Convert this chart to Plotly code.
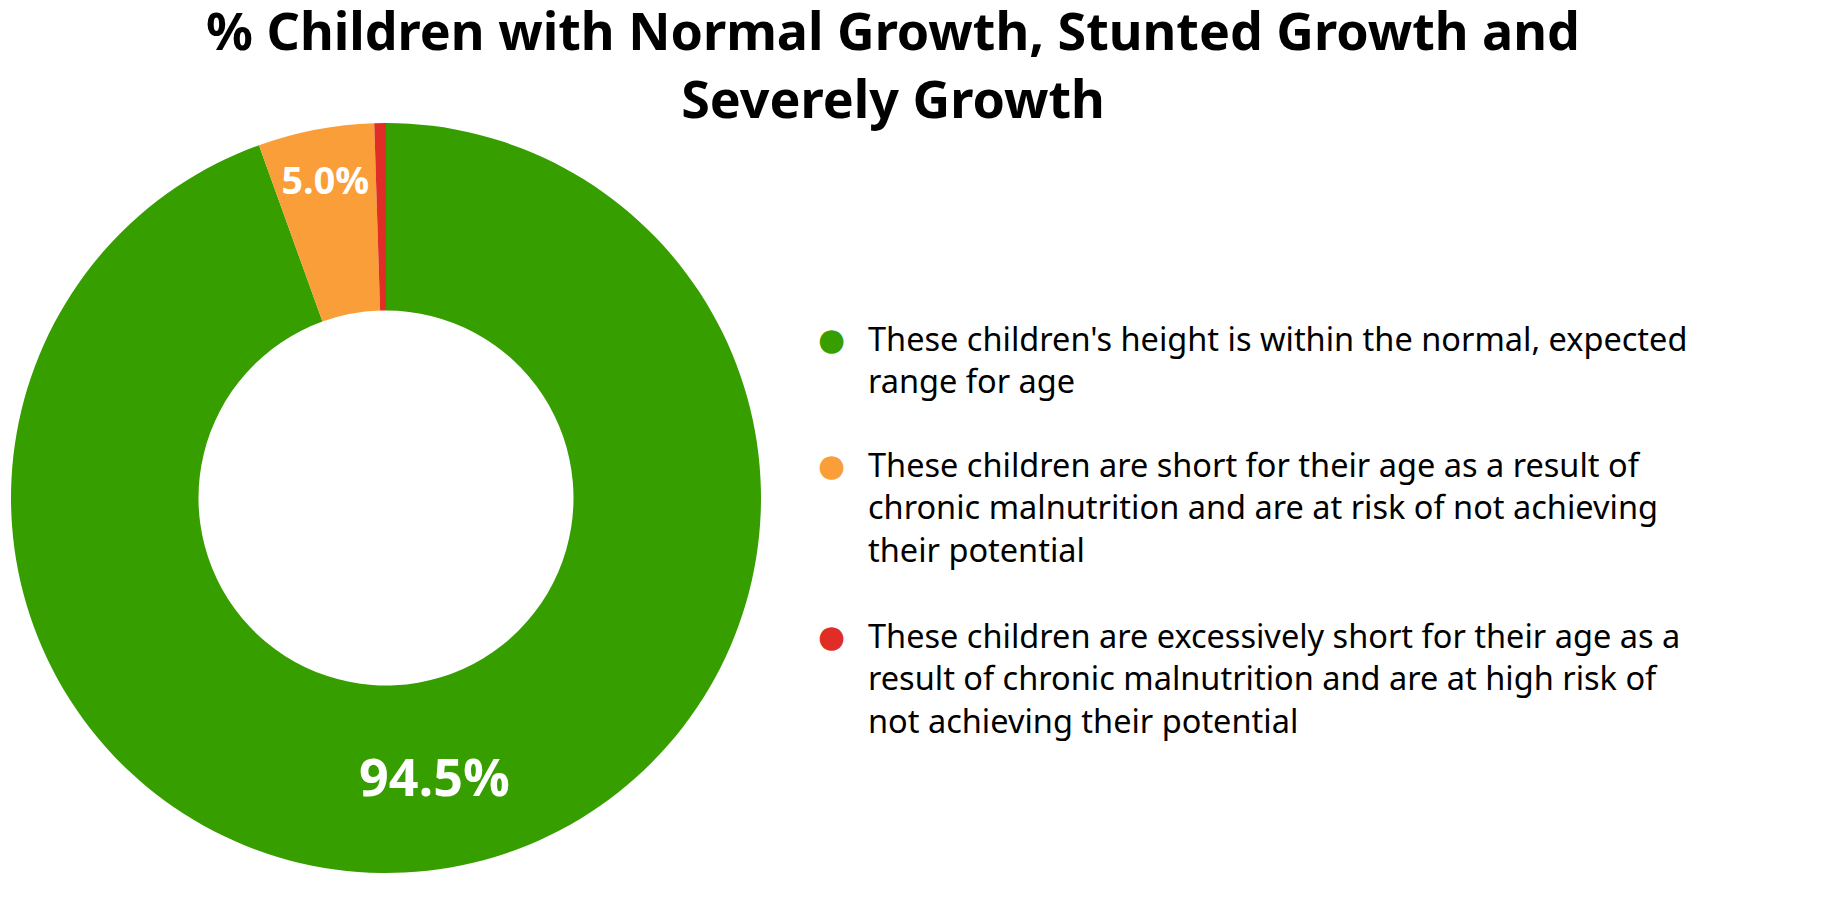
import plotly.graph_objects as go

# ---- data ----
categories = ["Normal growth", "Stunted growth", "Severely stunted growth"]
values = [94.5, 5.0, 0.5]
colors = ["#379e00", "#f99e38", "#e02d25"]
legend_labels = [
    "These children's height is within the normal, expected<br>range for age",
    "These children are short for their age as a result of<br>chronic malnutrition and are at risk of not achieving<br>their potential",
    "These children are excessively short for their age as a<br>result of chronic malnutrition and are at high risk of<br>not achieving their potential",
]
title_text = "% Children with Normal Growth, Stunted Growth and<br>Severely Growth"

W, H = 1836, 920
OFF = 8  # page body margin

fig = go.Figure()
fig.add_trace(go.Pie(
    labels=categories,
    values=values,
    marker=dict(colors=colors, line=dict(width=0)),
    hole=0.5,
    sort=False,
    direction="clockwise",
    rotation=0,
    texttemplate="%{percent:.1%}",
    textposition=["inside", "inside", "none"],
    insidetextorientation="horizontal",
    textfont=dict(family="Open Sans", size=[52, 42, 10], color="white", weight="bold"),
    showlegend=False,
    hoverinfo="label+percent",
    domain=dict(x=[(11 - OFF) / W, (761 - OFF) / W],
                y=[1 - (873 - OFF) / H, 1 - (123 - OFF) / H]),
))

annotations = []
marker_y = [339, 465, 636]
for lab, col, my in zip(legend_labels, colors, marker_y):
    annotations.append(dict(
        text="●", x=(831 - OFF) / W, y=1 - (my - OFF) / H, xref="paper", yref="paper",
        xanchor="center", yanchor="middle", showarrow=False,
        font=dict(size=31, color=col, family="DejaVu Sans"),
    ))
    annotations.append(dict(
        text=lab, x=(866 - OFF) / W, y=1 - (my - OFF - 25.5) / H, xref="paper", yref="paper",
        xanchor="left", yanchor="top", align="left", showarrow=False,
        font=dict(size=32.5, color="black", family="Noto Sans"),
    ))

fig.update_layout(
    width=W, height=H,
    margin=dict(l=0, r=0, t=0, b=0),
    paper_bgcolor="white",
    plot_bgcolor="white",
    title=dict(
        text=title_text,
        x=(893 - OFF) / W, xanchor="center",
        y=1 - 42 / H, yanchor="top", yref="container",
        font=dict(family="Noto Sans", size=52, color="black", weight="bold"),
    ),
    annotations=annotations,
)

fig.write_html("out.html")
